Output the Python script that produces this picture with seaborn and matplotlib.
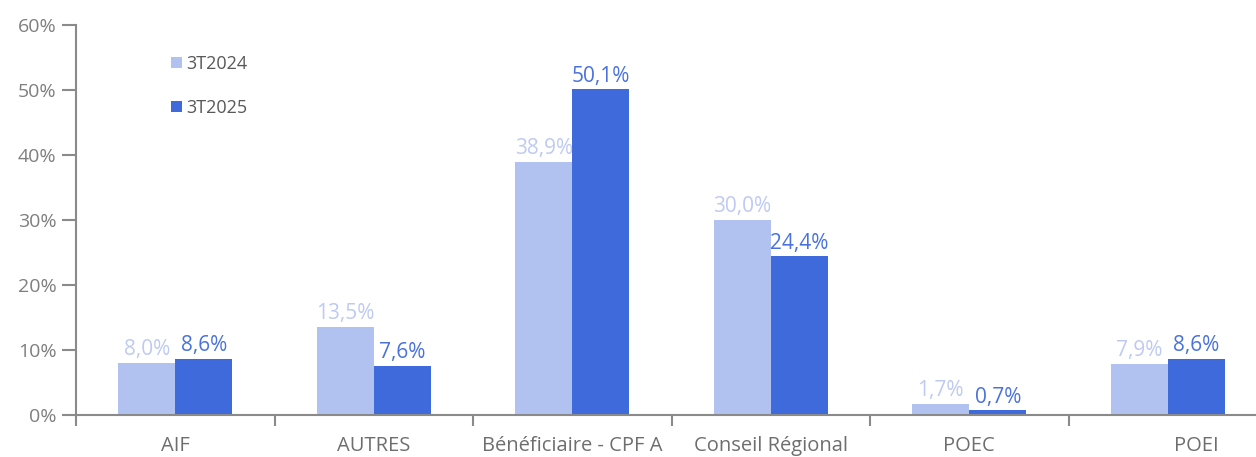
import numpy as np
import pandas as pd
import seaborn as sns
import matplotlib.pyplot as plt
import matplotlib.transforms as mtrans
from matplotlib.ticker import FixedLocator, FuncFormatter

categories = ["AIF", "AUTRES", "Bénéficiaire - CPF A", "Conseil Régional", "POEC", "POEI"]
series = ["3T2024", "3T2025"]
values_2024 = [8.0, 13.5, 38.9, 30.0, 1.7, 7.9]
values_2025 = [8.6, 7.6, 50.1, 24.4, 0.7, 8.6]

BAR_COLORS = ["#B1C1F0", "#3F6ADB"]
LABEL_COLORS = ["#BFCAF2", "#4A72DE"]
GREY = "#8A8A8A"

sns.set_style("white")
plt.rcParams["font.family"] = ["Open Sans", "DejaVu Sans"]

df = pd.DataFrame({
    "cat": categories * 2,
    "serie": [series[0]] * len(categories) + [series[1]] * len(categories),
    "val": values_2024 + values_2025,
})

fig = plt.figure(figsize=(12.56, 4.57), dpi=100)
ax = fig.add_axes([76 / 1256, 1 - 415 / 457, 1191 / 1256, 390 / 457])

sns.barplot(data=df, x="cat", y="val", hue="serie", order=categories,
            hue_order=series, palette=BAR_COLORS, width=0.575, gap=0,
            saturation=1, linewidth=0, ax=ax)

for cont, col in zip(ax.containers, LABEL_COLORS):
    ax.bar_label(cont, labels=[f"{v:.1f}%".replace(".", ",") for v in cont.datavalues],
                 color=col, fontsize=15, padding=2)

ax.set_xlim(-0.5, 5.5)
ax.set_ylim(0, 60)
ax.yaxis.set_major_locator(FixedLocator(np.arange(0, 61, 10)))
ax.yaxis.set_major_formatter(FuncFormatter(lambda v, p: f"{v:.0f}%"))
ax.set_xlabel("")
ax.set_ylabel("")

for s in ["top", "right"]:
    ax.spines[s].set_visible(False)
for s in ["left", "bottom"]:
    ax.spines[s].set_color(GREY)
    ax.spines[s].set_linewidth(1.5)

ax.tick_params(axis="y", length=10, width=1.5, color=GREY, labelcolor="#7F7F7F",
               labelsize=14, pad=4, left=True)
ax.tick_params(axis="x", which="major", length=0, labelcolor="#6E6E6E",
               labelsize=14.5, pad=15)
ax.xaxis.set_minor_locator(FixedLocator(np.arange(-0.5, 6, 1)))
ax.tick_params(axis="x", which="minor", length=8, width=1.5, color=GREY, bottom=True)

# the last category label sits in the visible part of its (clipped) slot
last = ax.get_xticklabels()[-1]
last.set_transform(last.get_transform() + mtrans.ScaledTranslation(0.29, 0, fig.dpi_scale_trans))

leg = ax.legend(loc="upper left", bbox_to_anchor=(0.066, 0.965), frameon=False,
                fontsize=13, handlelength=0.6, handleheight=0.6,
                handletextpad=0.25, labelspacing=1.45)
for t in leg.get_texts():
    t.set_color("#595959")

fig.savefig("out.png", dpi=100)
